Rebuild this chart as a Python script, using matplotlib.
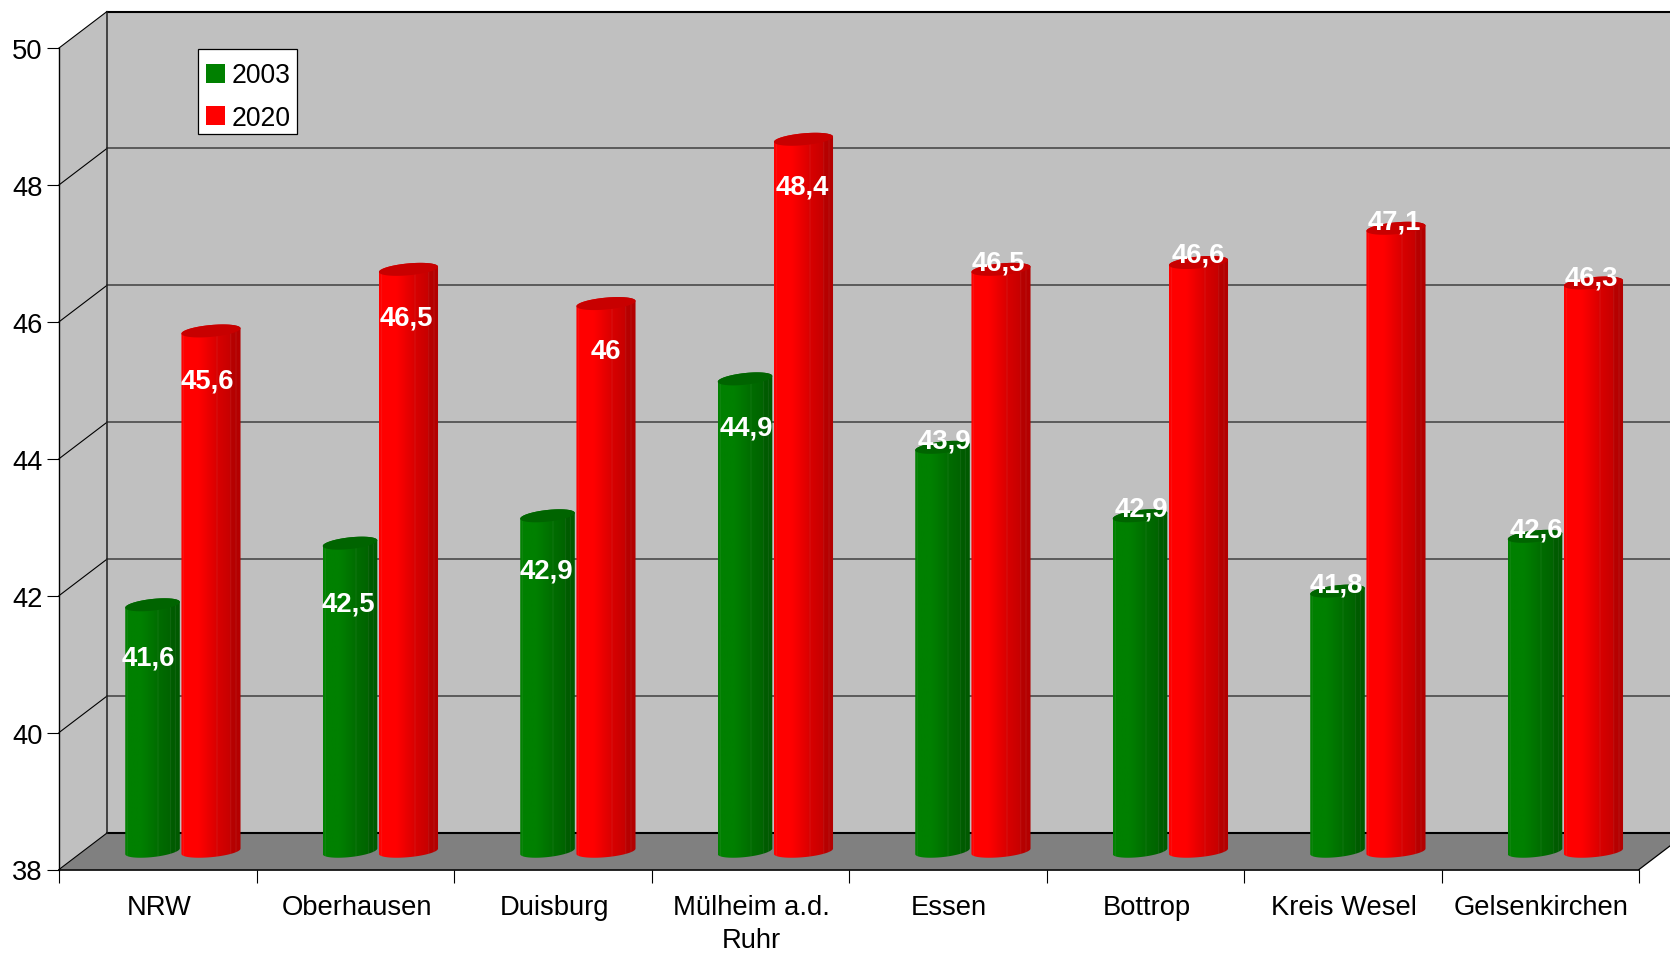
import numpy as np
import matplotlib
matplotlib.use('Agg')
import matplotlib.pyplot as plt
from matplotlib.patches import Polygon, Rectangle
from matplotlib.transforms import ScaledTranslation

plt.rcParams['font.family'] = ['Liberation Sans', 'DejaVu Sans']

# data
categories = ['NRW', 'Oberhausen', 'Duisburg', 'Mülheim a.d.\nRuhr', 'Essen', 'Bottrop', 'Kreis Wesel', 'Gelsenkirchen']
# bar heights as drawn, they do not always agree with the printed labels
heights_2003 = [41.6, 42.5, 42.9, 44.9, 43.9, 42.9, 41.8, 42.6]
heights_2020 = [45.6, 46.5, 46.0, 48.4, 46.5, 46.6, 47.1, 46.3]
labels_2003 = ['41,6', '42,5', '42,9', '44,9', '43,9', '42,9', '41,8', '42,6']
labels_2020 = ['45,6', '46,5', '46', '48,4', '46,5', '46,6', '47,1', '46,3']
# where the labels sit on the value scale
label_y_2003 = [41.10, 41.89, 42.37, 44.45, 44.26, 43.27, 42.16, 42.97]
label_y_2020 = [45.15, 46.06, 45.57, 47.98, 46.87, 46.98, 47.47, 46.65]
# sideways nudge of the labels, pixels
label_dx_2003 = [0, 2, 3, 5, 6, 5, 3, 5]
label_dx_2020 = [0, 2, 4, 3, 1, 4, 2, 2]
yticks = [38, 40, 42, 44, 46, 48, 50]
legend_names = ['2003', '2020']
legend_colors = ['#008000', '#FF0000']

W, H = 1670, 954
fig = plt.figure(figsize=(W / 100, H / 100), dpi=100, facecolor='white')
# axes = front plane of the 3d box
left, right, bottom, top = 59, 1639, 870.5, 49
ax = fig.add_axes([left / W, 1 - bottom / H, (right - left) / W, (bottom - top) / H])
ax.set_facecolor('none')

PX = 8 / (right - left)   # one pixel in x units
PY = 12 / (bottom - top)  # one pixel in y units
DX = 48 * PX    # depth of the box
DY = 36.5 * PY
n = len(categories)

# walls and floor
ax.add_patch(Polygon([(0, 50), (DX, 50 + DY), (DX, 38 + DY), (0, 38)], fc='#C0C0C0', ec='none', zorder=1, clip_on=False))
ax.add_patch(Polygon([(DX, 50 + DY), (n + DX, 50 + DY), (n + DX, 38 + DY), (DX, 38 + DY)], fc='#C0C0C0', ec='none', zorder=1, clip_on=False))
ax.add_patch(Polygon([(0, 38), (n, 38), (n + DX, 38 + DY), (DX, 38 + DY)], fc='#808080', ec='none', zorder=1, clip_on=False))

# grid on the walls
for v in yticks:
    ax.plot([0, DX], [v, v + DY], color='black', lw=0.8, zorder=1.5, clip_on=False)
    col = 'black' if v in (38, 50) else '#404040'
    ax.plot([DX, n + DX], [v + DY, v + DY], color=col, lw=1.5 if v in (38, 50) else 1.1, zorder=1.5, clip_on=False)
ax.plot([DX, DX], [38 + DY, 50 + DY], color='#202020', lw=1.1, zorder=1.5, clip_on=False)
ax.plot([n, n + DX], [38, 38 + DY], color='black', lw=0.9, zorder=1.5, clip_on=False)


def shade(base):
    # colours across the cylinder, left to right
    s = np.linspace(0, 1, 240)
    f = np.interp(s, [0, 0.3, 0.6, 0.82, 0.83, 1], [1, 1, 0.85, 0.78, 0.72, 0.7])
    rgb = np.outer(f, base)
    # thin light lines on the facets
    for p in (0.04, 0.6, 0.83, 0.92):
        k = int(p * 239)
        rgb[k:k + 2] = rgb[k:k + 2] * 0.8 + 0.2 * np.array([1, 1, 1]) * 0.75
    return rgb[None, :, :]


def cylinder(x, val, base, top_col, R, z):
    Dx, Dy = 12, 6.5
    t0 = np.arctan2(Dx, R)
    hw = np.hypot(R, Dx) * PX
    cx = x + DX / 2
    b = 38 + DY / 2
    v = val + DY / 2

    def ell(t, yc):
        return cx + (R * np.cos(t) + Dx * np.sin(t)) * PX, yc + Dy * np.sin(t) * PY

    up = np.linspace(t0, t0 + np.pi, 40)
    dn = np.linspace(t0 + np.pi, t0 + 2 * np.pi, 40)
    x1, y1 = ell(dn, b)
    x2, y2 = ell(up, v)
    outline = Polygon(np.column_stack([np.r_[x1, x2], np.r_[y1, y2]]), transform=ax.transData)
    im = ax.imshow(shade(base), extent=[cx - hw, cx + hw, b - 10 * PY, v + 10 * PY], aspect='auto', interpolation='bilinear', zorder=z)
    im.set_clip_path(outline)
    xt, yt = ell(np.linspace(0, 2 * np.pi, 80), v)
    ax.fill(xt, yt, color=top_col, lw=0, zorder=z + 0.1, clip_on=False)


green = np.array([0, 128, 0]) / 255
red = np.array([255, 0, 0]) / 255
offs = 0.148
for i in range(n):
    cylinder(i + 0.5 - offs, heights_2003[i], green, '#006400', 24.5, 3 + i)
    cylinder(i + 0.5 + offs, heights_2020[i], red, '#C80000', 27, 3.5 + i)
    ax.text(i + 0.5 - offs + (20 + label_dx_2003[i]) * PX, label_y_2003[i], labels_2003[i], color='white', fontsize=19.8, fontweight='bold', ha='center', va='center', zorder=50, clip_on=False)
    ax.text(i + 0.5 + offs + (20 + label_dx_2020[i]) * PX, label_y_2020[i], labels_2020[i], color='white', fontsize=19.8, fontweight='bold', ha='center', va='center', zorder=50, clip_on=False)

# axes, ticks
ax.set_xlim(0, n)
ax.set_ylim(38, 50)
for s in ('top', 'right'):
    ax.spines[s].set_visible(False)
ax.spines['left'].set_linewidth(1.0)
ax.spines['bottom'].set_linewidth(1.2)
ax.set_yticks(yticks)
ax.tick_params(axis='y', length=8.6, width=0.8, labelsize=19.7, pad=3)
ax.set_xticks(np.arange(n + 1))
ax.set_xticklabels([])
ax.tick_params(axis='x', which='major', length=9, width=0.8)
ax.set_xticks(np.arange(n) + 0.5, minor=True)
ax.set_xticklabels(categories, minor=True, fontsize=19.7, linespacing=1.37)
ax.tick_params(axis='x', which='minor', length=0, pad=17.5)
# category labels sit a pixel right of the interval centre
shift = ScaledTranslation(1.3 / 100, 0, fig.dpi_scale_trans)
for lab in ax.get_xticklabels(minor=True):
    lab.set_transform(lab.get_transform() + shift)

# legend, placed by hand: matplotlib's legend pads all sides alike
to_fig = lambda x, y: (x / W, 1 - y / H)
fig.add_artist(Rectangle(to_fig(198.5, 135.5), 99 / W, 84.5 / H, transform=fig.transFigure, fc='#808080', ec='none', zorder=60))
fig.add_artist(Rectangle(to_fig(197.5, 134.5), 99 / W, 84.5 / H, transform=fig.transFigure, fc='white', ec='black', lw=0.9, zorder=61))
for name, color, sw_y, base_y in zip(legend_names, legend_colors, [84, 126], [83.3, 126]):
    fig.add_artist(Rectangle(to_fig(206, sw_y), 19 / W, 19 / H, transform=fig.transFigure, fc=color, ec='none', zorder=62))
    x_t, y_t = to_fig(231.5, base_y)
    fig.text(x_t, y_t, name, fontsize=19.1, va='baseline', ha='left', zorder=62)

fig.savefig('out.png', dpi=100)
